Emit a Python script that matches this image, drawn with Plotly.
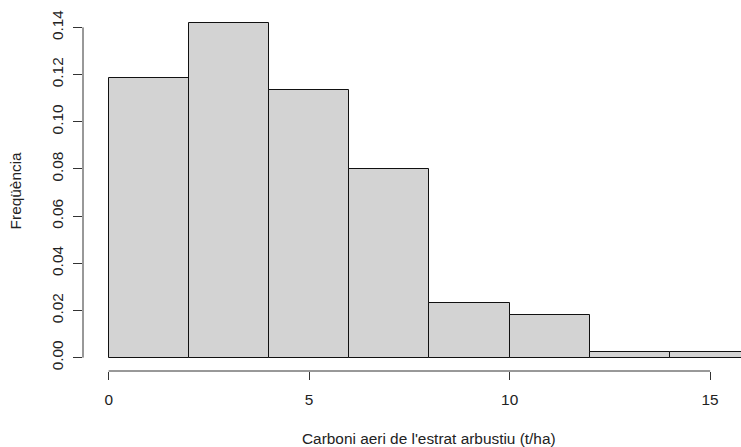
import plotly.graph_objects as go

# Histogram bins (t/ha) and density of each bin
breaks = [0, 2, 4, 6, 8, 10, 12, 14, 16]
density = [0.1185, 0.1417, 0.1134, 0.0799, 0.0232, 0.0182, 0.0025, 0.0025]

x_ticks = [0, 5, 10, 15]
y_ticks = [0.00, 0.02, 0.04, 0.06, 0.08, 0.10, 0.12, 0.14]

x_title = "Carboni aeri de l'estrat arbustiu (t/ha)"
y_title = "Freqüència"

mids = [(a + b) / 2 for a, b in zip(breaks[:-1], breaks[1:])]
widths = [b - a for a, b in zip(breaks[:-1], breaks[1:])]

FONT = "Liberation Sans, Arial, sans-serif"
FS = 15.4
TXT = "#222222"
AX = "#333333"

fig = go.Figure(
    go.Bar(
        x=mids,
        y=density,
        width=widths,
        marker=dict(color="#D3D3D3", line=dict(color="#111111", width=1)),
        hoverinfo="skip",
    )
)

# base-graphics style extended ranges (4% padding)
xr = [breaks[0] - 0.04 * (breaks[-1] - breaks[0]), 15.77]
ymax = max(density)
yr = [-0.04 * ymax, ymax * 1.04]

fig.update_layout(
    width=741,
    height=447,
    margin=dict(l=83, r=0, t=10, b=76),
    plot_bgcolor="white",
    paper_bgcolor="white",
    showlegend=False,
    bargap=0,
    font=dict(family=FONT, size=FS, color=TXT),
    xaxis=dict(
        range=xr,
        tickmode="array",
        tickvals=x_ticks,
        ticktext=[str(v) for v in x_ticks],
        ticks="outside",
        ticklen=8,
        tickwidth=1,
        tickcolor=AX,
        showline=False,
        showgrid=False,
        zeroline=False,
        ticklabelstandoff=7,
        tickfont=dict(family=FONT, size=FS, color=TXT),
    ),
    yaxis=dict(
        range=yr,
        tickmode="array",
        tickvals=y_ticks,
        ticktext=[f"{v:.2f}" for v in y_ticks],
        tickangle=-90,
        ticks="outside",
        ticklen=9,
        tickwidth=1,
        tickcolor=AX,
        showline=False,
        showgrid=False,
        zeroline=False,
        ticklabelstandoff=4,
        tickfont=dict(family=FONT, size=FS, color=TXT),
    ),
    shapes=[
        # x axis line spanning first to last tick
        dict(type="line", xref="x", yref="paper",
             x0=x_ticks[0], x1=x_ticks[-1], y0=0, y1=0,
             line=dict(color=AX, width=1)),
        # y axis line spanning first to last tick
        dict(type="line", xref="paper", yref="y",
             x0=0, x1=0, y0=y_ticks[0], y1=y_ticks[-1],
             line=dict(color=AX, width=1)),
    ],
    annotations=[
        dict(text=x_title, xref="x", yref="paper",
             x=(breaks[0] + breaks[-1]) / 2, y=-0.186,
             xanchor="center", yanchor="middle", showarrow=False,
             font=dict(family=FONT, size=FS, color=TXT)),
        dict(text=y_title, xref="paper", yref="paper",
             x=-0.102, y=0.5, textangle=-90,
             xanchor="center", yanchor="middle", showarrow=False,
             font=dict(family=FONT, size=FS, color=TXT)),
    ],
)

fig.write_html("out.html")
